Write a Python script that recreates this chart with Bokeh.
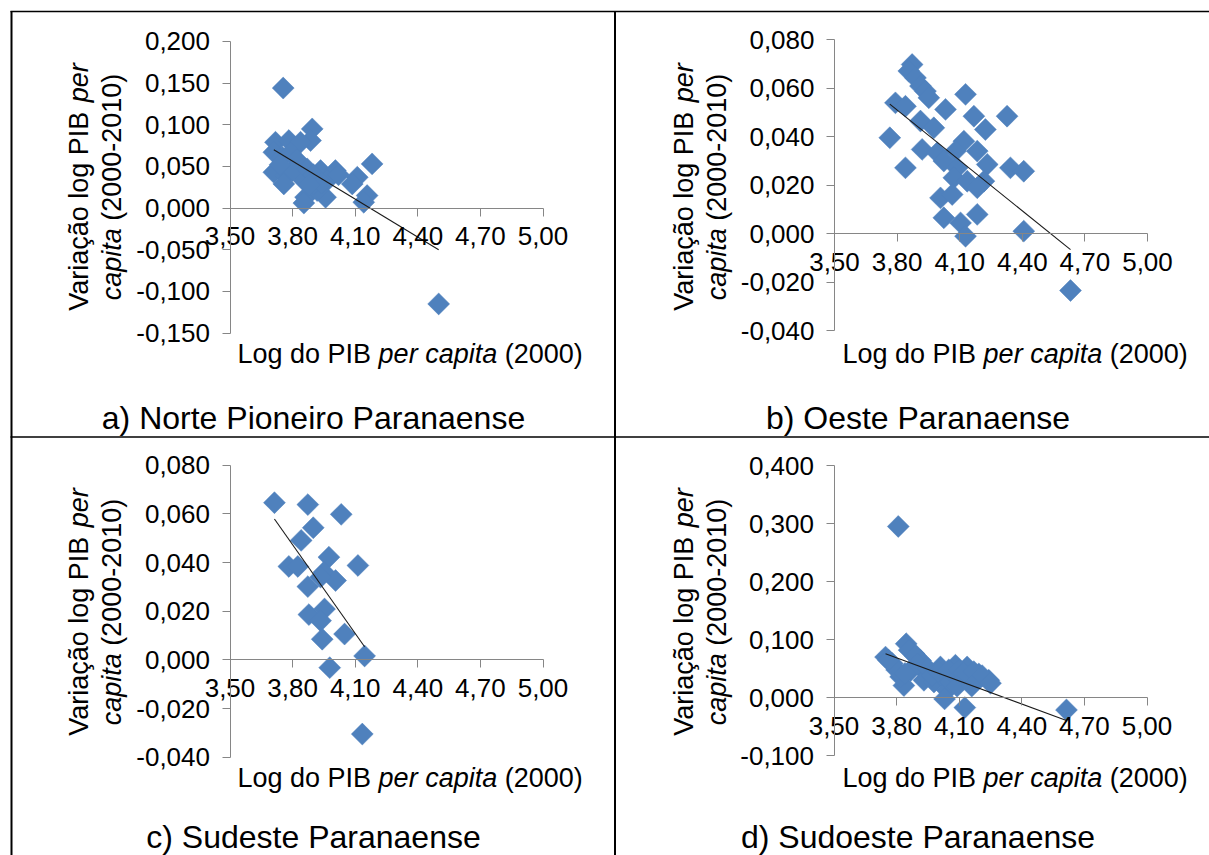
import math
from bokeh.plotting import figure
from bokeh.models import Range1d, LinearAxis, FixedTicker, CustomJSTickFormatter, Label
from bokeh.embed import file_html
from bokeh.resources import INLINE

# ---------------- data ----------------
x_ticks = [3.5, 3.8, 4.1, 4.4, 4.7, 5.0]

# a) Norte Pioneiro Paranaense
xa = [3.755, 3.894, 3.886, 3.718, 3.782, 3.838, 3.710, 3.750, 3.710, 3.766, 3.758, 3.822, 3.854,
      3.934, 4.005, 3.966, 3.862, 3.854, 3.958, 4.110, 4.086, 4.157, 4.141, 4.181, 3.918, 3.900,
      3.790, 3.820, 3.800, 3.870, 3.900, 3.940, 3.880, 3.740, 4.020, 4.500]
ya = [0.144, 0.095, 0.081, 0.079, 0.081, 0.079, 0.067, 0.061, 0.043, 0.039, 0.029, 0.045, 0.033,
      0.045, 0.045, 0.033, 0.013, 0.006, 0.013, 0.037, 0.029, 0.015, 0.007, 0.053, 0.021, 0.029,
      0.066, 0.058, 0.045, 0.047, 0.040, 0.030, 0.028, 0.052, 0.040, -0.115]
trend_a = (-0.152, 0.634)          # slope, intercept
yticks_a = [-0.15, -0.10, -0.05, 0.0, 0.05, 0.10, 0.15, 0.20]

# b) Oeste Paranaense
xb = [3.872, 3.856, 3.888, 3.912, 3.936, 3.952, 4.128, 3.792, 3.840, 4.032, 4.168, 4.327, 4.223,
      3.912, 3.976, 3.765, 3.920, 3.992, 4.120, 4.080, 4.184, 3.840, 4.024, 4.088, 4.232, 4.343,
      4.407, 4.072, 4.136, 4.216, 4.184, 4.008, 4.064, 4.184, 4.024, 4.104, 4.128, 4.407, 4.631]
yb = [0.0698, 0.0671, 0.0643, 0.0609, 0.0588, 0.0561, 0.0575, 0.0540, 0.0526, 0.0513, 0.0485, 0.0485, 0.0430,
      0.0465, 0.0437, 0.0396, 0.0348, 0.0334, 0.0382, 0.0341, 0.0341, 0.0272, 0.0300, 0.0272, 0.0286, 0.0272,
      0.0258, 0.0231, 0.0217, 0.0217, 0.0190, 0.0148, 0.0162, 0.0080, 0.0066, 0.0045, -0.0010, 0.0011, -0.0234]
trend_b = (-0.0693, 0.3144)
yticks_b = [-0.04, -0.02, 0.0, 0.02, 0.04, 0.06, 0.08]

# c) Sudeste Paranaense
xc = [3.713, 3.873, 4.033, 3.899, 3.841, 3.782, 3.825, 3.974, 4.113, 3.950, 4.006, 3.873, 3.934,
      3.878, 3.953, 3.934, 3.942, 4.049, 4.145, 3.978, 4.134]
yc = [0.0646, 0.0638, 0.0598, 0.0543, 0.0491, 0.0384, 0.0384, 0.0422, 0.0388, 0.0360, 0.0326, 0.0301, 0.0340,
      0.0186, 0.0209, 0.0161, 0.0085, 0.0106, 0.0016, -0.0032, -0.0305]
trend_c = (-0.1216, 0.5094)
yticks_c = [-0.04, -0.02, 0.0, 0.02, 0.04, 0.06, 0.08]

# d) Sudoeste Paranaense
xd = [3.808, 3.846, 3.747, 3.779, 3.883, 3.915, 3.835, 3.819, 3.867, 3.947, 3.931, 3.979, 4.010,
      4.019, 4.082, 4.138, 4.194, 4.242, 4.106, 4.154, 4.042, 4.030, 4.127, 4.058, 4.074,
      3.860, 3.890, 3.900, 3.950, 3.970, 4.000, 4.050, 4.100, 4.120, 4.170, 4.210, 4.250,
      3.800, 3.840, 4.090, 4.160, 3.760, 4.614]
yd = [0.295, 0.093, 0.070, 0.059, 0.076, 0.064, 0.021, 0.036, 0.047, 0.041, 0.030, 0.027, 0.053,
      0.036, 0.056, 0.053, 0.041, 0.030, 0.036, 0.027, 0.013, -0.002, -0.017, 0.027, 0.041,
      0.082, 0.072, 0.058, 0.050, 0.038, 0.045, 0.048, 0.048, 0.043, 0.045, 0.038, 0.025,
      0.048, 0.042, 0.020, 0.020, 0.065, -0.021]
trend_d = (-0.1325, 0.5722)
yticks_d = [-0.1, 0.0, 0.1, 0.2, 0.3, 0.4]

captions = ["a) Norte Pioneiro Paranaense", "b) Oeste Paranaense",
            "c) Sudeste Paranaense", "d) Sudoeste Paranaense"]
xtitle = ["Log do PIB", "per capita", "(2000)"]
ytitle1 = ["Variação log PIB", "per"]
ytitle2 = ["capita", "(2000-2010)"]

# ---------------- layout / style ----------------
W, H = 1209, 855
FONT = "Liberation Sans"
BLUE = "#4F81BD"
AXIS = "#868686"
TICK_FS = 26.0
TITLE_FS = 27.0
CAP_FS = 32.0

ARIAL = {' ': 278, '(': 333, ')': 333, '-': 333, ',': 278, 'V': 667, 'P': 667, 'I': 278, 'B': 667,
         'L': 556, 'a': 556, 'r': 333, 'i': 222, 'ç': 500, 'ã': 556, 'o': 556, 'l': 222, 'g': 556,
         'p': 556, 'e': 556, 'c': 500, 't': 278, 'd': 556}


def tw(s, fs):
    return sum(ARIAL.get(ch, 556) for ch in s) * fs / 1000.0


p = figure(width=W, height=H, x_range=Range1d(0, W), y_range=Range1d(H, 0),
           x_axis_type=None, y_axis_type=None, toolbar_location=None,
           output_backend="svg", min_border=0, title=None)
p.outline_line_color = None
p.background_fill_color = "white"
p.border_fill_color = "white"

# table lines (page pixels)
p.segment(x0=[10, 10], y0=[11, 436.5], x1=[W, W], y1=[11, 436.5], line_color="black", line_width=1.5)
p.segment(x0=[11, 614.5], y0=[10.5, 10.5], x1=[11, 614.5], y1=[H, H], line_color="black", line_width=2)

panels = [
    dict(n="a", x=xa, y=ya, t=trend_a, yt=yticks_a, px0=229.5, px1=542.5, pyt=40.9, pyb=332.6,
         cap=(313, 417.5), yx1=78, yx2=111.5, yyc=186.5, xtx=237, xty=353),
    dict(n="b", x=xb, y=yb, t=trend_b, yt=yticks_b, px0=834.0, px1=1147.0, pyt=39.3, pyb=330.3,
         cap=(917.5, 417.5), yx1=683, yx2=716.5, yyc=186.5, xtx=842, xty=353),
    dict(n="c", x=xc, y=yc, t=trend_c, yt=yticks_c, px0=229.5, px1=542.5, pyt=464.7, pyb=756.7,
         cap=(313, 836), yx1=78, yx2=111.5, yyc=611.5, xtx=237, xty=777),
    dict(n="d", x=xd, y=yd, t=trend_d, yt=yticks_d, px0=833.5, px1=1146.5, pyt=465.0, pyb=755.3,
         cap=(917.5, 836), yx1=683, yx2=716.5, yyc=611.5, xtx=842, xty=777),
]

xfmt = "return tick.toFixed(2).replace('.', ',');"
yfmt = "return tick.toFixed(3).replace('.', ',');"

for P in panels:
    n = P["n"]
    c0, c1 = P["px0"], P["px1"]
    sx = (x_ticks[-1] - x_ticks[0]) / (c1 - c0)
    xs0 = x_ticks[0] - c0 * sx
    xs1 = x_ticks[0] + (W - c0) * sx
    ymin, ymax = P["yt"][0], P["yt"][-1]
    r0, r1 = P["pyt"], P["pyb"]
    sy = (ymax - ymin) / (r1 - r0)
    ytop = ymax + r0 * sy
    ybot = ymax - (H - r0) * sy
    p.extra_x_ranges["x" + n] = Range1d(xs0, xs1)
    p.extra_y_ranges["y" + n] = Range1d(ybot, ytop)

    p.scatter(P["x"], P["y"], marker="square", angle=math.pi / 4, size=15.5,
              fill_color=BLUE, line_color=BLUE, line_width=0.5,
              x_range_name="x" + n, y_range_name="y" + n)
    m, b = P["t"]
    tx = [min(P["x"]), max(P["x"])]
    p.line(tx, [b + m * v for v in tx], line_color="#1a1a1a", line_width=1.1,
           x_range_name="x" + n, y_range_name="y" + n)

    yax = LinearAxis(x_range_name="x" + n, y_range_name="y" + n, fixed_location=x_ticks[0],
                     bounds=(ymin, ymax), ticker=FixedTicker(ticks=P["yt"], minor_ticks=[]),
                     formatter=CustomJSTickFormatter(code=yfmt))
    xax = LinearAxis(x_range_name="x" + n, y_range_name="y" + n, fixed_location=0.0,
                     bounds=(x_ticks[0], x_ticks[-1]), ticker=FixedTicker(ticks=x_ticks, minor_ticks=[]),
                     formatter=CustomJSTickFormatter(code=xfmt))
    for ax, so in ((yax, 12), (xax, 11)):
        ax.axis_line_color = AXIS
        ax.axis_line_width = 1
        ax.major_tick_line_color = AXIS
        ax.major_tick_out = 8
        ax.major_tick_in = 0
        ax.minor_tick_out = 0
        ax.minor_tick_in = 0
        ax.major_label_text_font = FONT
        ax.major_label_text_font_size = f"{TICK_FS}px"
        ax.major_label_text_color = "black"
        ax.major_label_standoff = so
    p.add_layout(yax, "left")
    p.add_layout(xax, "below")

    # caption
    cx, cy = P["cap"]
    p.add_layout(Label(x=cx, y=cy, text=captions["abcd".index(n)], text_font=FONT,
                       text_font_size=f"{CAP_FS}px", text_align="center", text_baseline="middle",
                       text_color="black"))
    # x title: normal / italic / normal
    x0 = P["xtx"]
    offs = [0, tw(xtitle[0] + " ", TITLE_FS), tw(xtitle[0] + " " + xtitle[1] + " ", TITLE_FS)]
    for txt, o, st in zip(xtitle, offs, ["normal", "italic", "normal"]):
        p.add_layout(Label(x=x0 + o, y=P["xty"], text=txt, text_font=FONT,
                           text_font_size=f"{TITLE_FS}px", text_font_style=st,
                           text_align="left", text_baseline="middle", text_color="black"))
    # y title, two rotated lines
    for line, lx, styles in ((ytitle1, P["yx1"], ["normal", "italic"]),
                             (ytitle2, P["yx2"], ["italic", "normal"])):
        full = line[0] + " " + line[1]
        wfull = tw(full, TITLE_FS)
        start = P["yyc"] + wfull / 2
        o2 = tw(line[0] + " ", TITLE_FS)
        for txt, o, st in zip(line, [0, o2], styles):
            p.add_layout(Label(x=lx, y=start - o, text=txt, text_font=FONT,
                               text_font_size=f"{TITLE_FS}px", text_font_style=st, angle=math.pi / 2,
                               text_align="left", text_baseline="middle", text_color="black"))

open("out.html", "w").write(file_html(p, INLINE))
